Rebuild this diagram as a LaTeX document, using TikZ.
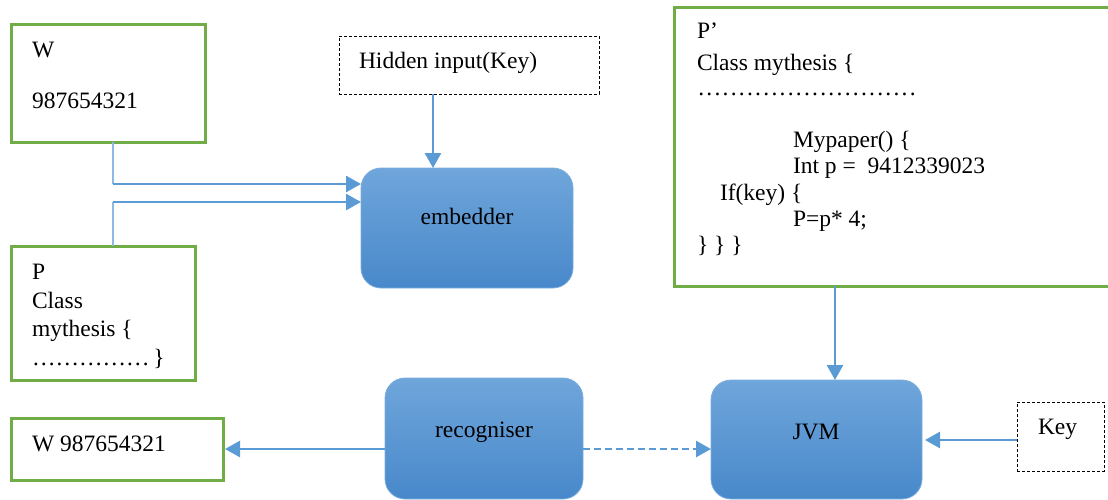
\documentclass[tikz,border=0pt]{standalone}
\usepackage{fontspec}
\setmainfont{Liberation Serif}
\usetikzlibrary{arrows.meta,calc}

\definecolor{boxgreen}{HTML}{70AD47}
\definecolor{linkblue}{HTML}{5B9BD5}
\definecolor{paleblue}{HTML}{8DB9E2}
\definecolor{proctop}{HTML}{6FA6DB}
\definecolor{procbot}{HTML}{4888CA}
\definecolor{procedge}{HTML}{7AAEDD}

% a row of evenly spaced dots of a given length
\newcommand{\dotrow}[1]{\hbox to #1{\xleaders\hbox to 7.9pt{\hss.\hss}\hfill}}

\tikzset{
  every node/.style={font=\fontsize{23.5}{29}\selectfont, inner sep=0pt, outer sep=0pt},
  databox/.style={draw=boxgreen, line width=3pt, anchor=north west},
  inputbox/.style={draw=black, line width=0.9pt, dash pattern=on 3pt off 2pt, anchor=north west},
  process/.style={rounded corners=20pt, top color=proctop, bottom color=procbot,
                  draw=procedge, line width=0.8pt, anchor=north west},
  txt/.style={anchor=base west},
  ctxt/.style={anchor=base},
  link/.style={draw=linkblue, line width=2.7pt, -{Triangle[length=15pt,width=16pt]}},
  dashlink/.style={link, dash pattern=on 7pt off 4pt},
  feed/.style={draw=paleblue, line width=1.6pt},
}

\begin{document}
\begin{tikzpicture}[x=1pt, y=-1pt]
\useasboundingbox (0,0) rectangle (1108,499);
\clip (0,0) rectangle (1108,499);

% data boxes
\node[databox, minimum width=194pt, minimum height=118pt] (W) at (11,24) {};
\node[txt] (Wa) at (32,57) {W};
\node[txt] (Wb) at (32,108) {987654321};

\node[databox, minimum width=184pt, minimum height=134pt] (P) at (11,246) {};
\node[txt] (Pa) at (32,279) {P};
\node[txt] (Pb) at (32,308) {Class};
\node[txt] (Pc) at (32,336) {mythesis \{};
\node[txt] (Pd) at (32,365) {……………\,\}};

\node[databox, minimum width=212pt, minimum height=62pt] (Wout) at (11,418) {};
\node[txt] (Wouta) at (32,451) {W 987654321};

\node[databox, minimum width=450pt, minimum height=279pt] (Pp) at (674,7) {};
\node[txt] (Ppa) at (697,38) {P’};
\node[txt] (Ppb) at (697,70) {Class mythesis \{};
\node[txt] (Ppc) at (697,95) {\dotrow{220pt}};
\node[txt] (Ppd) at (793,147) {Mypaper() \{};
\node[txt] (Ppe) at (793,173) {Int p =\ \ 9412339023};
\node[txt] (Ppf) at (720,200) {If(key) \{};
\node[txt] (Ppg) at (793,226) {P=p* 4;};
\node[txt] (Pph) at (697,252) {\}\ \}\ \}};

% key inputs
\node[inputbox, minimum width=260pt, minimum height=58pt] (hidden) at (339,36) {};
\node[txt] (hiddent) at (359,68) {Hidden input(Key)};

\node[inputbox, minimum width=87pt, minimum height=69pt] (key) at (1017,402) {};
\node[txt] (keyt) at (1038,434) {Key};

% processing blocks
\node[process, minimum width=212pt, minimum height=120pt] (embed) at (361,168) {};
\node[ctxt] (embedt) at (467,224) {embedder};

\node[process, minimum width=198pt, minimum height=121pt] (recog) at (385,378) {};
\node[ctxt] (recogt) at (484,437) {recogniser};

\node[process, minimum width=211pt, minimum height=119pt] (jvm) at (711,380) {};
\node[ctxt] (jvmt) at (816,439) {JVM};

% connectors
\coordinate (wbend) at (113,184);
\coordinate (pbend) at (113,202);
\draw[feed] (W.south -| wbend) -- (wbend);
\draw[feed] (P.north -| pbend) -- (pbend);
\draw[link] (wbend) -- (embed.west |- wbend);
\draw[link] (pbend) -- (embed.west |- pbend);

\draw[link] (hidden.south -| 433,0) -- (embed.north -| 433,0);
\draw[link] (Pp.south -| 835,0) -- (jvm.north -| 835,0);
\draw[link] (key.west |- 0,440) -- ($(jvm.east |- 0,440)+(3,0)$);
\draw[dashlink] (recog.east |- 0,449) -- (jvm.west |- 0,449);
\draw[link] (recog.west |- 0,449) -- ($(Wout.east |- 0,449)+(2,0)$);
\end{tikzpicture}
\end{document}
